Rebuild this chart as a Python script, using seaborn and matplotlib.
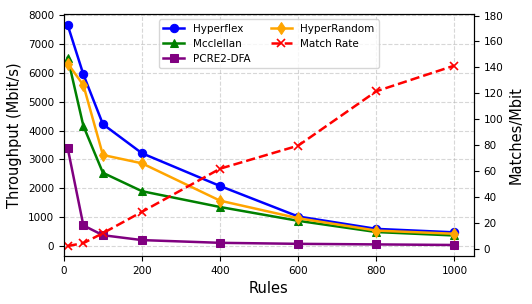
import matplotlib
matplotlib.use('Agg')
import matplotlib.pyplot as plt
import seaborn as sns
import pandas as pd

rules = [10, 50, 100, 200, 400, 600, 800, 1000]
hyperflex = [7660, 5950, 4220, 3210, 2070, 1010, 580, 460]
mcclellan = [6530, 4160, 2530, 1890, 1340, 860, 470, 350]
pcre2_dfa = [3380, 700, 360, 190, 95, 60, 40, 20]
hyperrandom = [6330, 5580, 3150, 2860, 1560, 950, 520, 410]
match_rate = [2.1, 4.3, 12, 28.5, 61.8, 79.6, 121.6, 141.4]

df = pd.DataFrame({'Rules': rules, 'Hyperflex': hyperflex, 'Mcclellan': mcclellan,
                   'PCRE2-DFA': pcre2_dfa, 'HyperRandom': hyperrandom, 'Match Rate': match_rate})

fig, ax = plt.subplots(figsize=(5.32, 3.04), dpi=100)
fig.subplots_adjust(left=0.120, right=0.891, bottom=0.158, top=0.953)

styles = [('Hyperflex', 'blue', 'o'), ('Mcclellan', 'green', '^'),
          ('PCRE2-DFA', 'purple', 's'), ('HyperRandom', 'orange', 'd')]
for name, col, mk in styles:
    sns.lineplot(data=df, x='Rules', y=name, ax=ax, color=col, marker=mk, markersize=6,
                 markeredgecolor=col, linewidth=1.8, label=name)

ax2 = ax.twinx()
sns.lineplot(data=df, x='Rules', y='Match Rate', ax=ax2, color='red', marker='x', markersize=6,
             markeredgecolor='red', markeredgewidth=1.2, linewidth=1.8, linestyle='--', label='Match Rate')

ax.set_xlim(0, 1050)
ax2.set_ylim(-5.6, 181)
ax.set_yticks(range(0, 8001, 1000))
ax2.set_yticks(range(0, 181, 20))
ax.grid(True, linestyle='--', alpha=0.5)

ax.set_xlabel('Rules', fontsize=10.5)
ax.set_ylabel('Throughput (Mbit/s)', fontsize=10.5)
ax2.set_ylabel('Matches/Mbit', fontsize=10.5)
ax.tick_params(labelsize=7.5)
ax2.tick_params(labelsize=7.5)

h1, l1 = ax.get_legend_handles_labels()
h2, l2 = ax2.get_legend_handles_labels()
ax2.get_legend().remove()
ax.legend(h1 + h2, l1 + l2, loc='upper center', ncol=2, fontsize=7.5)

fig.savefig('out.png', dpi=100)
